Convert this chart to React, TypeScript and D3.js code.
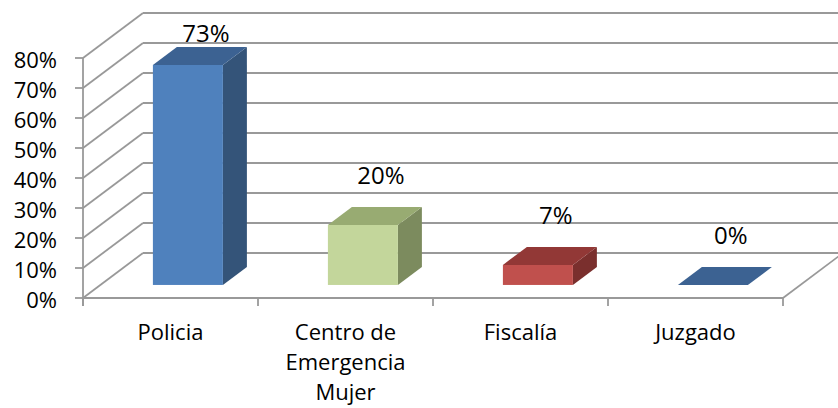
import React from "react";
import * as d3 from "d3";

const categories: string[][] = [
  ["Policia"],
  ["Centro de", "Emergencia", "Mujer"],
  ["Fiscalía"],
  ["Juzgado"],
];
const values: number[] = [73.33, 20, 6.67, 0];
const valueLabels: string[] = ["73%", "20%", "7%", "0%"];
const yTicks: number[] = [0, 10, 20, 30, 40, 50, 60, 70, 80];
const frontColors = ["#4F81BD", "#C3D69B", "#C0504D", "#4F81BD"];
const topColors = ["#3C6292", "#98AB72", "#923836", "#3C6292"];
const sideColors = ["#345479", "#7C8B5E", "#7A2F2D", "#345479"];

const W = 838;
const H = 408;
const FONT = "'Open Sans', 'Noto Sans', sans-serif";

export default function App() {
  const x0 = 83;
  const x1 = 783;
  const depthX = 60;
  const depthY = -45;
  const y = d3.scaleLinear().domain([0, 80]).range([298, 58]);
  const xBand = d3
    .scaleBand<number>()
    .domain(d3.range(categories.length))
    .range([x0, x1])
    .paddingInner(0)
    .paddingOuter(0);
  const bw = xBand.bandwidth();
  const barW = 70;
  const zFront = 0.29;
  const zBack = 0.69;
  const grid = "#999999";

  const bars = values.map((v, i) => {
    const fx = (xBand(i) as number) + (bw - barW) / 2 + zFront * depthX;
    const fyBottom = y(0) + zFront * depthY;
    const fyTop = y(v) + zFront * depthY;
    const ddx = (zBack - zFront) * depthX;
    const ddy = (zBack - zFront) * depthY;
    return { v, i, fx, fyBottom, fyTop, ddx, ddy };
  });

  return (
    <svg
      width={W}
      height={H}
      style={{ position: "absolute", left: 0, top: 0, background: "#fff" }}
      fontFamily={FONT}
    >
      {yTicks.map((t) => (
        <g key={"g" + t}>
          <line
            x1={x0 + depthX}
            x2={x1 + depthX}
            y1={y(t) + depthY}
            y2={y(t) + depthY}
            stroke={grid}
            strokeWidth={1.8}
          />
          <line
            x1={x0}
            y1={y(t)}
            x2={x0 + depthX}
            y2={y(t) + depthY}
            stroke={grid}
            strokeWidth={1.8}
          />
          <line x1={x0 - 8} x2={x0} y1={y(t)} y2={y(t)} stroke={grid} strokeWidth={1.8} />
          <text x={57} y={y(t) + 10} textAnchor="end" fontSize={22} fill="#000">
            {t + "%"}
          </text>
        </g>
      ))}
      <line x1={x0} x2={x1} y1={y(0)} y2={y(0)} stroke={grid} strokeWidth={1.8} />
      <line
        x1={x1}
        y1={y(0)}
        x2={x1 + depthX}
        y2={y(0) + depthY}
        stroke={grid}
        strokeWidth={1.8}
      />
      <line x1={x0} x2={x0} y1={y(80)} y2={y(0) + 8} stroke={grid} strokeWidth={1.8} />
      {d3.range(categories.length + 1).map((k) => {
        const xx = x0 + k * bw;
        return (
          <line key={"t" + k} x1={xx} x2={xx} y1={y(0)} y2={y(0) + 8} stroke={grid} strokeWidth={1.8} />
        );
      })}
      {bars.map((b) => {
        const { fx, fyBottom, fyTop, ddx, ddy, i } = b;
        const top = `M${fx},${fyTop} L${fx + ddx},${fyTop + ddy} L${fx + barW + ddx},${fyTop + ddy} L${fx + barW},${fyTop} Z`;
        const side = `M${fx + barW},${fyTop} L${fx + barW + ddx},${fyTop + ddy} L${fx + barW + ddx},${fyBottom + ddy} L${fx + barW},${fyBottom} Z`;
        const h = fyBottom - fyTop;
        return (
          <g key={"b" + i}>
            {h > 0 && <path d={side} fill={sideColors[i]} />}
            {h > 0 && <rect x={fx} y={fyTop} width={barW} height={h} fill={frontColors[i]} />}
            <path d={top} fill={topColors[i]} />
          </g>
        );
      })}
      {bars.map((b) => {
        const cx = b.fx + barW / 2 + 18;
        const by = Math.max(42, b.fyTop + b.ddy - 23);
        return (
          <text key={"l" + b.i} x={cx} y={by} textAnchor="middle" fontSize={24} fill="#000">
            {valueLabels[b.i]}
          </text>
        );
      })}
      {categories.map((lines, i) => (
        <text
          key={"c" + i}
          x={(xBand(i) as number) + bw / 2}
          y={340}
          textAnchor="middle"
          fontSize={22}
          fill="#000"
        >
          {lines.map((ln, j) => (
            <tspan key={j} x={(xBand(i) as number) + bw / 2} dy={j === 0 ? 0 : 30}>
              {ln}
            </tspan>
          ))}
        </text>
      ))}
    </svg>
  );
}
